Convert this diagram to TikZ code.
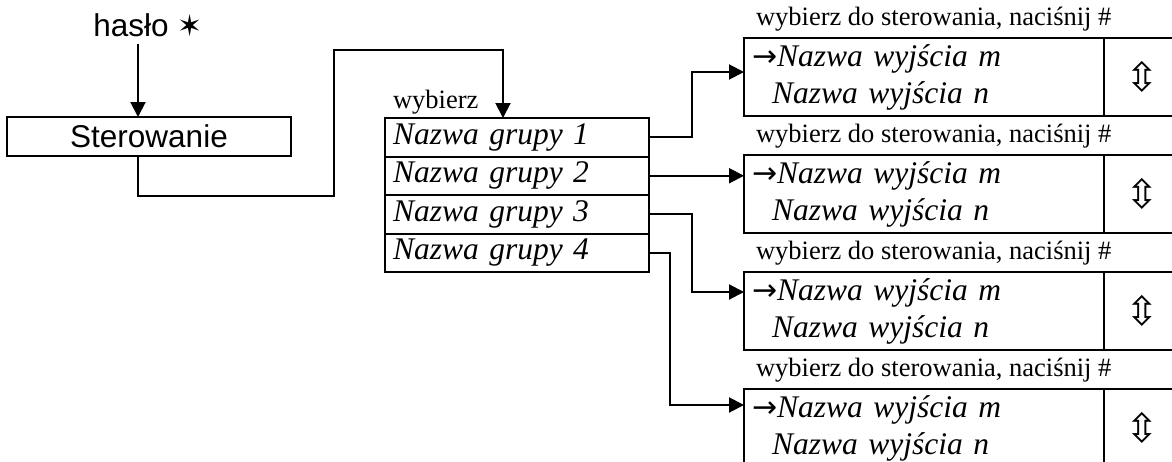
\documentclass[tikz,border=0pt]{standalone}
\usepackage{fontspec}
\setmainfont{Liberation Serif}
\setsansfont{Liberation Sans}
\newfontfamily\symfont{DejaVu Sans}
\usetikzlibrary{positioning,arrows.meta}

\begin{document}
\begin{tikzpicture}[x=1pt, y=1pt, line width=2pt, line join=miter,
        every node/.style={outer sep=0pt},
        grupa/.style={draw, minimum height=38.5pt, text width=248pt, inner xsep=8pt, inner ysep=0pt, align=left, font=\fontsize{31.5}{37}\selectfont\itshape},
        wyjscie/.style={draw, anchor=north west, minimum height=78pt, text width=344pt, inner xsep=8pt, inner ysep=0pt, align=left, font=\fontsize{31.5}{37}\selectfont\itshape},
        strzalki/.style={draw, minimum height=78pt, minimum width=76pt, font=\symfont\fontsize{40}{40}\selectfont},
        podpis/.style={anchor=base west, inner sep=0pt, font=\fontsize{26.5}{26.5}\selectfont},
        arr/.style={-{Triangle[length=15pt, width=15pt]}}]
        \useasboundingbox (0, 0) rectangle (1172, -461);
        \coordinate (k0) at (138, 0);
        \coordinate (k1) at (503, 0);

        \node[inner xsep=0pt, inner ysep=7pt, font=\sffamily\fontsize{31.5}{31.5}\selectfont] (haslo) at (148, -25) {hasło {\symfont\fontsize{30}{30}\selectfont ✶}};
        \node[draw, minimum width=284pt, minimum height=39pt, inner sep=0pt, font=\sffamily\fontsize{31.5}{31.5}\selectfont] (ster) at (149, -136.5) {Sterowanie};

        \node[grupa] (g1) at (517, -137.25) {Nazwa grupy 1};
        \node[grupa, below=0pt of g1] (g2) {Nazwa grupy 2};
        \node[grupa, below=0pt of g2] (g3) {Nazwa grupy 3};
        \node[grupa, below=0pt of g3] (g4) {Nazwa grupy 4};
        \node[podpis] (wyb) at ([shift={(8, 10)}]g1.north west) {wybierz};

        \node[wyjscie] (w1) at (744, -38) {{\upshape\symfont\fontsize{30}{30}\selectfont →}Nazwa wyjścia m\\\hspace*{20pt}Nazwa wyjścia n};
        \node[wyjscie] (w2) at (744, -155) {{\upshape\symfont\fontsize{30}{30}\selectfont →}Nazwa wyjścia m\\\hspace*{20pt}Nazwa wyjścia n};
        \node[wyjscie] (w3) at (744, -272) {{\upshape\symfont\fontsize{30}{30}\selectfont →}Nazwa wyjścia m\\\hspace*{20pt}Nazwa wyjścia n};
        \node[wyjscie] (w4) at (744, -389) {{\upshape\symfont\fontsize{30}{30}\selectfont →}Nazwa wyjścia m\\\hspace*{20pt}Nazwa wyjścia n};
        \node[strzalki, right=0pt of w1] (s1) {⇳};
        \node[strzalki, right=0pt of w2] (s2) {⇳};
        \node[strzalki, right=0pt of w3] (s3) {⇳};
        \node[strzalki, right=0pt of w4] (s4) {⇳};
        \node[podpis] (p1) at ([shift={(12, 13)}]w1.north west) {wybierz do sterowania, naciśnij \#};
        \node[podpis] (p2) at ([shift={(12, 13)}]w2.north west) {wybierz do sterowania, naciśnij \#};
        \node[podpis] (p3) at ([shift={(12, 13)}]w3.north west) {wybierz do sterowania, naciśnij \#};
        \node[podpis] (p4) at ([shift={(12, 13)}]w4.north west) {wybierz do sterowania, naciśnij \#};

        \draw[arr] (haslo.south -| k0) -- (ster.north -| k0);
        \draw[arr] (ster.south -| k0) |- (334, -196) |- (503, -50) -- (k1 |- g1.north);

        \draw[arr] (g1.east) -- ++(43, 0) |- ([yshift=5pt]w1.west);
        \draw[arr] (g2.east) -- (g2.east -| w2.west);
        \draw[arr] (g3.east) -- ++(43, 0) |- ([yshift=19pt]w3.west);
        \draw[arr] (g4.east) -- ++(21, 0) |- ([yshift=23pt]w4.west);
    \end{tikzpicture}
\end{document}
